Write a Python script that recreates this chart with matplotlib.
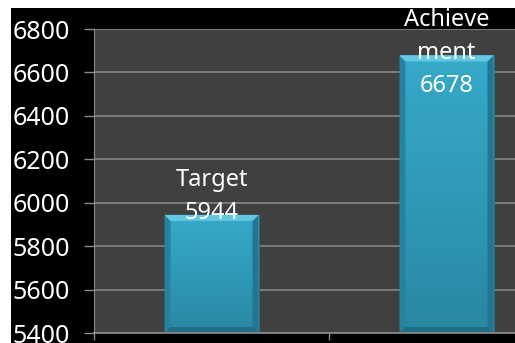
import numpy as np
import matplotlib.pyplot as plt
from matplotlib.patches import Polygon, Rectangle

# chart data
categories = ["Target", "Achievement"]
label_names = ["Target", "Achieve\nment"]
values = [5944, 6678]
y_ticks = [5400, 5600, 5800, 6000, 6200, 6400, 6600, 6800]

W, H = 515, 343
fig = plt.figure(figsize=(W / 100, H / 100), dpi=100)
fig.patch.set_facecolor("black")
# white margin on top and left
fig.patches.append(Rectangle((0, 1 - 8 / H), 1, 8 / H, transform=fig.transFigure,
                             facecolor="white", edgecolor="none", zorder=-1))
fig.patches.append(Rectangle((0, 0), 11 / W, 1, transform=fig.transFigure,
                             facecolor="white", edgecolor="none", zorder=-1))

ax_left, ax_right = 94, 564
ax_bottom, ax_top = 333, 29
ax = fig.add_axes([ax_left / W, (H - ax_bottom) / H,
                   (ax_right - ax_left) / W, (ax_bottom - ax_top) / H])
ax.set_facecolor("#404040")

x = np.arange(len(categories))
bar_w = 0.4
ax.set_xlim(-0.5, 1.5)
ax.set_ylim(y_ticks[0], y_ticks[-1])

ax.set_yticks(y_ticks)
ax.set_yticklabels([str(t) for t in y_ticks], fontsize=18, color="white",
                   fontfamily="Noto Sans")
ax.yaxis.grid(True, color="#8c8c8c", lw=1.1)
ax.set_axisbelow(True)
ax.tick_params(axis="y", length=7.5, width=1, color="#8c8c8c", pad=10)
ax.set_xticks([-0.5, 0.5, 1.5])
ax.set_xticklabels([])
ax.tick_params(axis="x", length=5, width=1, color="#8c8c8c")
for s in ("top", "right"):
    ax.spines[s].set_visible(False)
ax.spines["left"].set_color("#8c8c8c")
ax.spines["bottom"].set_color("#8c8c8c")
ax.spines["bottom"].set_linewidth(1.2)

# px -> data scale factors
px_x = 2.0 / (ax_right - ax_left)
px_y = (y_ticks[-1] - y_ticks[0]) / (ax_bottom - ax_top)

bar_cmap = plt.matplotlib.colors.LinearSegmentedColormap.from_list(
    "bar", ["#2a87a2", "#2f9ab8", "#37a9c9"])
grad = np.linspace(0, 1, 256).reshape(-1, 1)
for xi, v in zip(x, values):
    x0, x1 = xi - bar_w / 2, xi + bar_w / 2
    y0 = y_ticks[0]
    bars = ax.bar(xi, v - y0, bottom=y0, width=bar_w, color="#2f9bb9",
                  edgecolor="#226f85", lw=0.6, zorder=2)
    patch = bars[0]
    # vertical shading, lighter at top
    img = ax.imshow(grad, extent=(x0, x1, y0, v), origin="lower", aspect="auto",
                    cmap=bar_cmap, zorder=2.1)
    img.set_clip_path(patch)
    bx, by = 6 * px_x, 6 * px_y
    # darker bevel on the sides and bottom
    ax.add_patch(Polygon([(x0, y0), (x0 + bx, y0 + by), (x0 + bx, v - by), (x0, v)],
                         facecolor="#2683a0", edgecolor="none", zorder=2.2))
    ax.add_patch(Polygon([(x1, y0), (x1 - bx, y0 + by), (x1 - bx, v - by), (x1, v)],
                         facecolor="#23768f", edgecolor="none", zorder=2.2))
    ax.add_patch(Polygon([(x0, y0), (x1, y0), (x1 - bx, y0 + by), (x0 + bx, y0 + by)],
                         facecolor="#216d84", edgecolor="none", zorder=2.2))
    # light bevel on the top
    ax.add_patch(Polygon([(x0, v), (x1, v), (x1 - bx, v - by), (x0 + bx, v - by)],
                         facecolor="#63c9e3", edgecolor="none", zorder=2.3))

for xi, name, v in zip(x, label_names, values):
    ax.annotate(f"{name}\n{v}", (xi, v), xytext=(0, 34), textcoords="offset points",
                ha="center", va="top", color="white", fontsize=17,
                fontfamily="Noto Sans", linespacing=1.5, zorder=5,
                annotation_clip=False)

fig.savefig("out.png", dpi=100, facecolor=fig.get_facecolor())
